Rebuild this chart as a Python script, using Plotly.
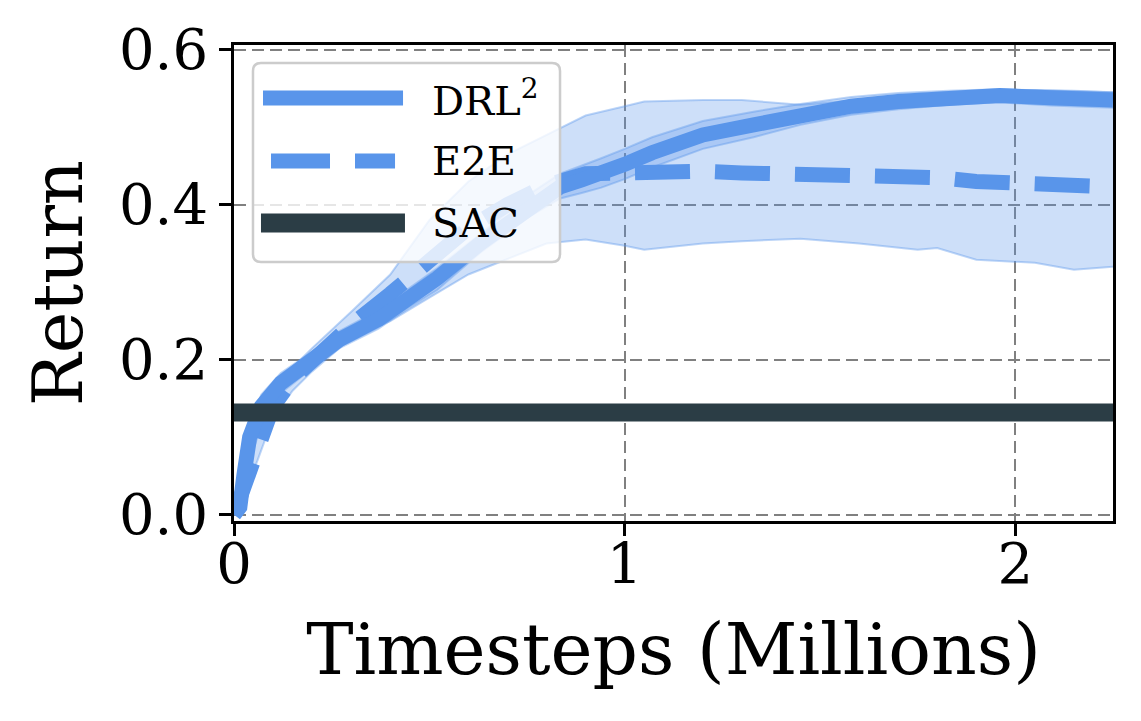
import plotly.graph_objects as go

BLUE = "#5995EA"
BLUE_FILL = "rgba(89,149,234,0.3)"
BLUE_EDGE = "rgba(89,149,234,0.4)"
SAC_COLOR = "#2B3D45"
FONT = "DejaVu Serif"

# ── data (timesteps in millions) ─────────────────────────────────
x_drl = [0, 0.015, 0.025, 0.04, 0.07, 0.12, 0.19, 0.27, 0.37, 0.45, 0.52, 0.63,
         0.76, 0.835, 0.89, 0.94, 1.0, 1.07, 1.2, 1.33, 1.45, 1.58, 1.7, 1.83,
         1.96, 2.09, 2.25]
drl_mean = [0, 0.01, 0.05, 0.10, 0.14, 0.17, 0.196, 0.226, 0.252, 0.28, 0.305, 0.35,
            0.40, 0.423, 0.432, 0.44, 0.452, 0.467, 0.49, 0.503, 0.516, 0.527, 0.533,
            0.538, 0.541, 0.538, 0.535]
drl_hi = [0.005, 0.02, 0.065, 0.115, 0.155, 0.183, 0.207, 0.237, 0.264, 0.293, 0.318,
          0.362, 0.415, 0.44, 0.45, 0.46, 0.472, 0.487, 0.508, 0.52, 0.53, 0.539, 0.544,
          0.547, 0.549, 0.547, 0.545]
drl_lo = [0, 0.0, 0.035, 0.085, 0.125, 0.157, 0.185, 0.215, 0.24, 0.268, 0.29, 0.338,
          0.386, 0.408, 0.415, 0.422, 0.433, 0.448, 0.472, 0.487, 0.503, 0.516, 0.523,
          0.529, 0.532, 0.528, 0.525]

x_e2e = [0, 0.02, 0.06, 0.1, 0.15, 0.2, 0.3, 0.4, 0.5, 0.6, 0.7, 0.8, 0.9, 1.0, 1.05,
         1.2, 1.3, 1.45, 1.6, 1.75, 1.8, 1.9, 2.05, 2.15, 2.25]
e2e_mean = [0, 0.03, 0.085, 0.14, 0.175, 0.2, 0.245, 0.285, 0.33, 0.37, 0.4, 0.425,
            0.44, 0.442, 0.439, 0.443, 0.441, 0.44, 0.441, 0.437, 0.435, 0.43, 0.428,
            0.425, 0.423]
e2e_hi = [0.005, 0.04, 0.1, 0.155, 0.19, 0.215, 0.262, 0.31, 0.38, 0.43, 0.465, 0.49,
          0.515, 0.527, 0.533, 0.535, 0.535, 0.529, 0.535, 0.54, 0.543, 0.545, 0.548,
          0.547, 0.545]
e2e_lo = [0, 0.02, 0.07, 0.125, 0.16, 0.185, 0.228, 0.25, 0.28, 0.31, 0.33, 0.35,
          0.355, 0.347, 0.342, 0.35, 0.353, 0.356, 0.35, 0.342, 0.344, 0.329, 0.325,
          0.316, 0.32]

x_sac = [0, 2.25]
sac_return = [0.132, 0.132]

x_ticks = [0, 1, 2]
y_ticks = [0.0, 0.2, 0.4, 0.6]

legend_names = ["DRL<sup>2</sup>", "E2E", "SAC"]


def band(fig, x, lo, hi):
    fig.add_trace(go.Scatter(x=x, y=lo, mode="lines", showlegend=False,
                             line=dict(color=BLUE_EDGE, width=2), hoverinfo="skip"))
    fig.add_trace(go.Scatter(x=x, y=hi, mode="lines", showlegend=False,
                             fill="tonexty", fillcolor=BLUE_FILL,
                             line=dict(color=BLUE_EDGE, width=2), hoverinfo="skip"))


fig = go.Figure()
band(fig, x_e2e, e2e_lo, e2e_hi)
band(fig, x_drl, drl_lo, drl_hi)

fig.add_trace(go.Scatter(x=x_e2e, y=e2e_mean, mode="lines", name="E2E",
                         line=dict(color=BLUE, width=15, dash="55px,25px")))
fig.add_trace(go.Scatter(x=x_drl, y=drl_mean, mode="lines", name="DRL2",
                         line=dict(color=BLUE, width=15)))
fig.add_trace(go.Scatter(x=x_sac, y=sac_return, mode="lines", name="SAC",
                         line=dict(color=SAC_COLOR, width=18)))

axis_common = dict(
    showline=True, linecolor="black", linewidth=2.5, mirror=True,
    ticks="outside", ticklen=12, tickwidth=2.5, tickcolor="black",
    showgrid=True, gridcolor="#808080", gridwidth=2.2, griddash="12px,6px",
    zeroline=False, automargin=False,
    tickfont=dict(family=FONT, size=56, color="black"),
)

fig.update_xaxes(range=[0, 2.25], tickvals=x_ticks, ticktext=[str(t) for t in x_ticks],
                 ticklabelstandoff=-20,
                 title=dict(text="Timesteps (Millions)", standoff=30,
                            font=dict(family=FONT, size=71, color="black")),
                 **axis_common)
fig.update_yaxes(range=[-0.008, 0.606], tickvals=y_ticks,
                 ticktext=[f"{t:.1f}" for t in y_ticks],
                 title=dict(text="Return", standoff=14,
                            font=dict(family=FONT, size=70, color="black")),
                 **axis_common)

# ── legend box (rounded, semi-transparent, drawn over the data) ──
x0, x1, y0, y1 = 0.0216, 0.3709, 0.5441, 0.9622
rx, ry = 8 / 879, 8 / 476
box_path = (f"M{x0 + rx},{y1} L{x1 - rx},{y1} Q{x1},{y1} {x1},{y1 - ry} "
            f"L{x1},{y0 + ry} Q{x1},{y0} {x1 - rx},{y0} L{x0 + rx},{y0} "
            f"Q{x0},{y0} {x0},{y0 + ry} L{x0},{y1 - ry} Q{x0},{y1} {x0 + rx},{y1} Z")
fig.add_shape(type="path", path=box_path, xref="paper", yref="paper", layer="above",
              fillcolor="rgba(255,255,255,0.8)", line=dict(color="#cccccc", width=2.5))

legend_rows = [
    dict(x=(0.033, 0.1923), y=0.8887, color=BLUE, width=15, dash="solid"),
    dict(x=(0.0421, 0.1832), y=0.7563, color=BLUE, width=15, dash="59px,25px"),
    dict(x=(0.0307, 0.1945), y=0.6261, color=SAC_COLOR, width=19, dash="solid"),
]
for name, row in zip(legend_names, legend_rows):
    fig.add_shape(type="line", xref="paper", yref="paper", layer="above",
                  x0=row["x"][0], x1=row["x"][1], y0=row["y"], y1=row["y"],
                  line=dict(color=row["color"], width=row["width"], dash=row["dash"]))
    fig.add_annotation(text=name, xref="paper", yref="paper", x=0.223, y=row["y"],
                       xanchor="left", yanchor="middle", showarrow=False,
                       font=dict(family=FONT, size=40, color="black"))

fig.update_layout(
    width=1133, height=713,
    paper_bgcolor="white", plot_bgcolor="white",
    margin=dict(l=226, r=28, t=37, b=200),
    font=dict(family=FONT, color="black"),
    showlegend=False,
)

fig.write_html("out.html")
